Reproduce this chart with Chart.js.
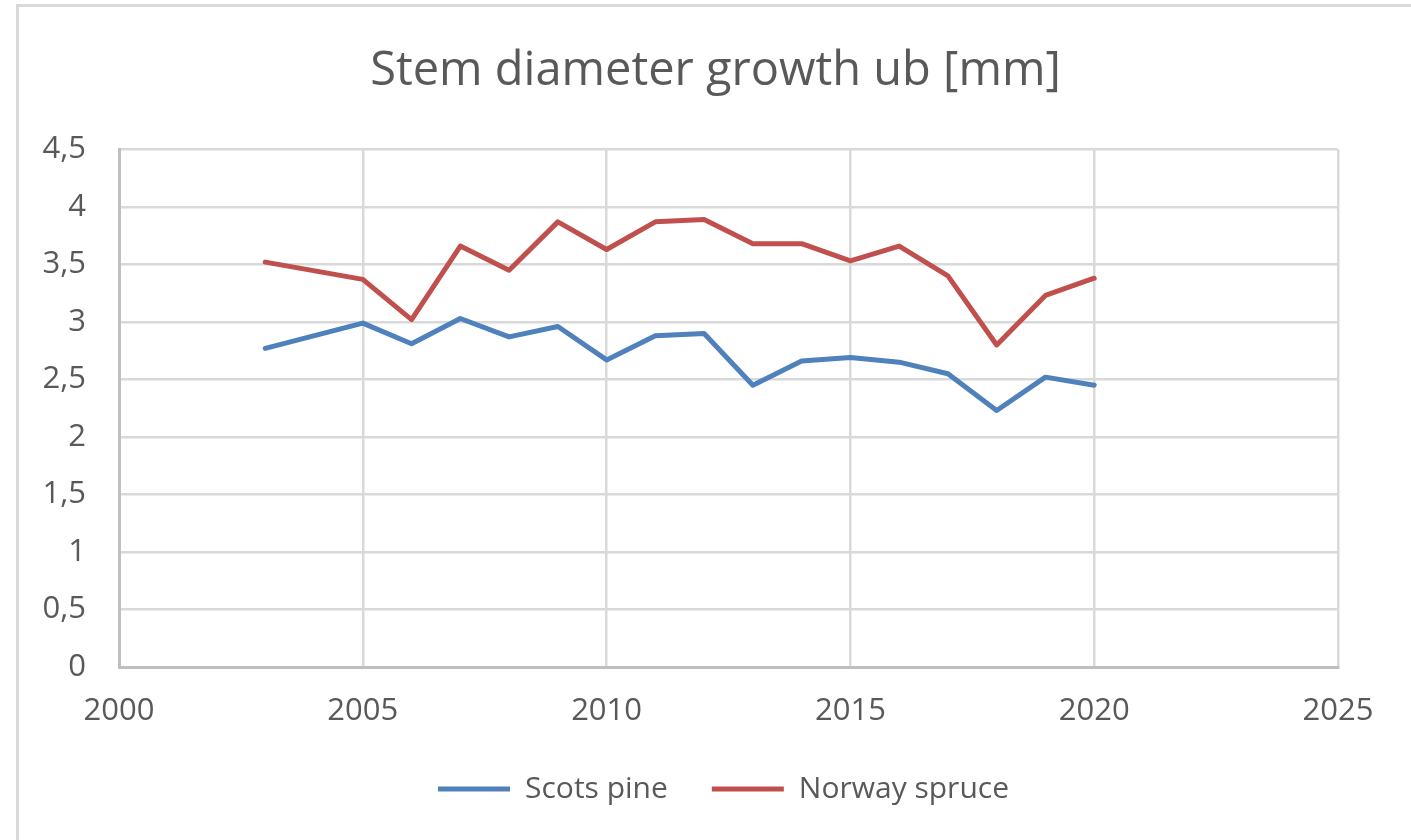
<!DOCTYPE html>
<html>
<head>
<meta charset="utf-8">
<script src="https://cdn.jsdelivr.net/npm/chart.js@4/dist/chart.umd.min.js"></script>
<style>
  html, body { margin: 0; padding: 0; background: #fff; overflow: hidden; }
  #frame {
    position: absolute; left: 16px; top: 4px;
    width: 1500px; height: 1000px;
    border: 3px solid #d9d9d9;
  }
  #wrap { position: absolute; left: 0; top: 0; width: 1411px; height: 840px; }
</style>
</head>
<body>
<div id="frame"></div>
<div id="wrap"><canvas id="chart"></canvas></div>
<script>
const years = [2003, 2005, 2006, 2007, 2008, 2009, 2010, 2011, 2012, 2013, 2014, 2015, 2016, 2017, 2018, 2019, 2020]
const scotsPine = [2.77, 2.99, 2.81, 3.03, 2.87, 2.96, 2.67, 2.88, 2.90, 2.45, 2.66, 2.69, 2.65, 2.55, 2.23, 2.52, 2.45]
const norwaySpruce = [3.52, 3.37, 3.02, 3.66, 3.45, 3.87, 3.63, 3.87, 3.89, 3.68, 3.68, 3.53, 3.66, 3.40, 2.80, 3.23, 3.38]

const BLUE = "#4F81BD"
const RED = "#C0504D"
const TEXT = "#595959"
const GRID = "#d9d9d9"
const FONT = "'Open Sans', sans-serif"

function series(label, values, color) {
  return {
    label,
    data: years.map((x, i) => ({ x, y: values[i] })),
    borderColor: color,
    backgroundColor: color,
    borderWidth: 5,
    borderCapStyle: "round",
    borderJoinStyle: "round",
    pointRadius: 0,
    tension: 0,
    pointStyle: "line"
  }
}

// Excel centres title and legend on the whole frame, not on the plot area
const recentre = {
  id: "recentre",
  afterLayout(chart) {
    if (chart.titleBlock) { chart.titleBlock.left -= 26 }
    if (chart.legend) { chart.legend.left -= 10 }
  }
}

const ctx = document.getElementById("chart").getContext("2d")
new Chart(ctx, {
  type: "line",
  data: {
    datasets: [
      series("Scots pine", scotsPine, BLUE),
      series("Norway spruce", norwaySpruce, RED)
    ]
  },
  plugins: [recentre],
  options: {
    responsive: true,
    maintainAspectRatio: false,
    animation: false,
    layout: { padding: { left: 0, right: 73, top: 0, bottom: 26 } },
    plugins: {
      title: {
        display: true,
        fullSize: false,
        text: "Stem diameter growth ub [mm]",
        color: TEXT,
        font: { family: FONT, size: 47, weight: "normal" },
        padding: { top: 43, bottom: 50 }
      },
      legend: {
        position: "bottom",
        fullSize: false,
        labels: {
          usePointStyle: true,
          pointStyleWidth: 72,
          padding: 44,
          color: TEXT,
          font: { family: FONT, size: 30 }
        }
      },
      tooltip: { enabled: false }
    },
    scales: {
      x: {
        type: "linear",
        min: 2000,
        max: 2025,
        afterFit: (scale) => { scale.height = 63 },
        grid: { color: GRID, lineWidth: 2.5, drawTicks: false },
        border: { color: "#bfbfbf", width: 3 },
        ticks: {
          stepSize: 5,
          padding: 26,
          color: TEXT,
          font: { family: FONT, size: 31 },
          callback: (v) => String(v)
        }
      },
      y: {
        min: 0,
        max: 4.5,
        afterFit: (scale) => { scale.width = 119 },
        grid: { color: GRID, lineWidth: 2.5, drawTicks: false },
        border: { color: "#bfbfbf", width: 3 },
        ticks: {
          stepSize: 0.5,
          padding: 33,
          color: TEXT,
          font: { family: FONT, size: 31 },
          callback: (v) => String(Math.round(v * 10) / 10).replace(".", ",")
        }
      }
    }
  }
})
</script>
</body>
</html>
